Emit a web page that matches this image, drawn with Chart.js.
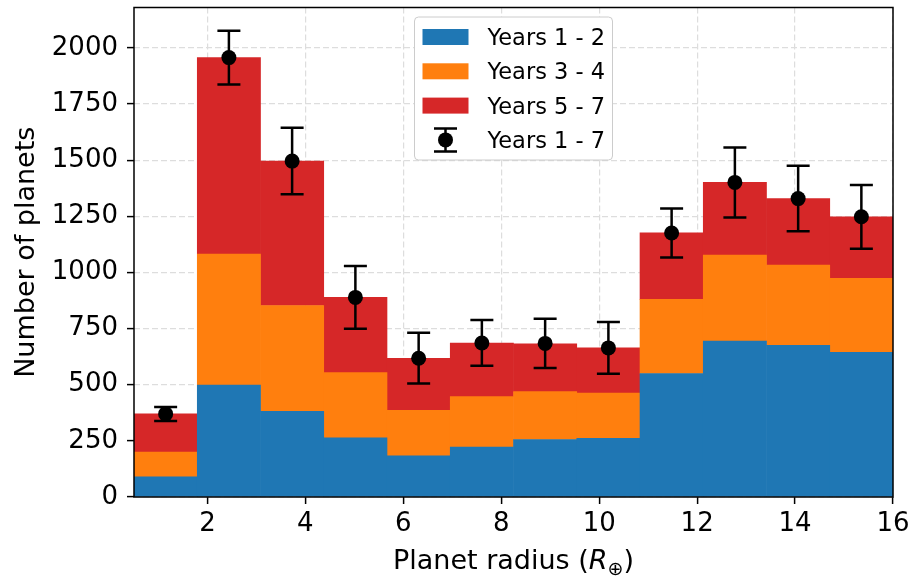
<!DOCTYPE html>
<html>
<head>
<meta charset="utf-8">
<script src="https://cdn.jsdelivr.net/npm/chart.js@4.4.0/dist/chart.umd.min.js"></script>
<style>
html,body{margin:0;padding:0;background:#fff}
#wrap{width:912px;height:576px}
</style>
</head>
<body>
<div id="wrap"><canvas id="hist" width="912" height="576"></canvas></div>
<script>
// histogram bins (planet radius, R_earth) - centres of the 12 bins between 0.5 and 16
var binCentres = [1.146, 2.438, 3.729, 5.021, 6.313, 7.604, 8.896, 10.188, 11.479, 12.771, 14.063, 15.354]
var years12 = [90, 498, 382, 264, 183, 222, 256, 261, 550, 694, 675, 644]
var years34 = [110, 584, 471, 290, 203, 225, 213, 202, 330, 383, 358, 330]
var years57 = [170, 875, 643, 335, 232, 238, 213, 201, 296, 324, 296, 274]
var years17 = [370, 1957, 1496, 889, 618, 686, 684, 664, 1176, 1401, 1329, 1248]
var years17Err = [31, 120, 148, 140, 113, 102, 110, 115, 109, 156, 146, 142]
var xTicks = [2, 4, 6, 8, 10, 12, 14, 16]
var yTicks = [0, 250, 500, 750, 1000, 1250, 1500, 1750, 2000]

var couleurs = {bleu: "#1f77b4", orange: "#ff7f0e", rouge: "#d62728"}
var police = "DejaVu Sans"

function points(vals){
	var res = []
	for(var i=0;i<vals.length;i++){
		res.push({x: binCentres[i], y: vals[i]})
	}
	return res
}

var extras = {
	id: "extras",
	afterDatasetsDraw: function(chart){
		var ctx = chart.ctx
		var xs = chart.scales.x
		var ys = chart.scales.y
		var ca = chart.chartArea
		ctx.save()
		// error bars
		ctx.strokeStyle = "#000"
		ctx.lineWidth = 2.5
		for(var i=0;i<years17.length;i++){
			var px = xs.getPixelForValue(binCentres[i])
			var yh = ys.getPixelForValue(years17[i] + years17Err[i])
			var yb = ys.getPixelForValue(years17[i] - years17Err[i])
			ctx.beginPath()
			ctx.moveTo(px, yh); ctx.lineTo(px, yb)
			ctx.moveTo(px - 11.5, yh); ctx.lineTo(px + 11.5, yh)
			ctx.moveTo(px - 11.5, yb); ctx.lineTo(px + 11.5, yb)
			ctx.stroke()
		}
		// frame
		ctx.lineWidth = 1.5
		ctx.strokeRect(ca.left, ca.top, ca.right - ca.left, ca.bottom - ca.top)

		// legend
		var lw = 198, lh = 143
		var lx = (ca.left + ca.right) / 2 - lw / 2
		var ly = ca.top + 9.5
		ctx.beginPath()
		ctx.roundRect(lx, ly, lw, lh, 4)
		ctx.fillStyle = "#fff"
		ctx.fill()
		ctx.strokeStyle = "#cccccc"
		ctx.lineWidth = 1
		ctx.stroke()
		var entrees = [["Years 1 - 2", couleurs.bleu], ["Years 3 - 4", couleurs.orange], ["Years 5 - 7", couleurs.rouge], ["Years 1 - 7", null]]
		ctx.font = "22.5px '" + police + "'"
		ctx.textBaseline = "alphabetic"
		ctx.textAlign = "left"
		for(var k=0;k<entrees.length;k++){
			var ry = ly + 20 + k * 34.3
			if(entrees[k][1]){
				ctx.fillStyle = entrees[k][1]
				ctx.fillRect(lx + 8, ry - 8, 46, 16)
			}else{
				var cx = lx + 31
				ctx.strokeStyle = "#000"
				ctx.lineWidth = 2.5
				ctx.beginPath()
				ctx.moveTo(cx, ry - 11.5); ctx.lineTo(cx, ry + 11.5)
				ctx.moveTo(cx - 11.5, ry - 11.5); ctx.lineTo(cx + 11.5, ry - 11.5)
				ctx.moveTo(cx - 11.5, ry + 11.5); ctx.lineTo(cx + 11.5, ry + 11.5)
				ctx.stroke()
				ctx.fillStyle = "#000"
				ctx.beginPath()
				ctx.arc(cx, ry, 7.5, 0, Math.PI * 2)
				ctx.fill()
			}
			ctx.fillStyle = "#000"
			ctx.fillText(entrees[k][0], lx + 73, ry + 8)
		}

		// x axis title with R subscript earth symbol
		var morceaux = [
			["Planet radius (", "27px '" + police + "'", 0],
			["R", "italic 27px '" + police + "'", 0],
			["\u2295", "19px '" + police + "'", 6],
			[")", "27px '" + police + "'", 0]
		]
		var total = 0
		for(var m=0;m<morceaux.length;m++){
			ctx.font = morceaux[m][1]
			total += ctx.measureText(morceaux[m][0]).width
		}
		var tx = (ca.left + ca.right) / 2 - total / 2
		var base = 569
		ctx.fillStyle = "#000"
		for(var m=0;m<morceaux.length;m++){
			ctx.font = morceaux[m][1]
			ctx.fillText(morceaux[m][0], tx, base + morceaux[m][2])
			tx += ctx.measureText(morceaux[m][0]).width
		}
		ctx.restore()
	}
}

new Chart("hist", {
	type: "bar",
	data: {
		datasets: [
			{type: "scatter", label: "Years 1 - 7", data: points(years17), order: 0,
				pointRadius: 7.5, pointHoverRadius: 7.5, backgroundColor: "#000", borderWidth: 0, pointBorderWidth: 0},
			{label: "Years 1 - 2", data: points(years12), backgroundColor: couleurs.bleu, stack: "hist", order: 1},
			{label: "Years 3 - 4", data: points(years34), backgroundColor: couleurs.orange, stack: "hist", order: 1},
			{label: "Years 5 - 7", data: points(years57), backgroundColor: couleurs.rouge, stack: "hist", order: 1}
		]
	},
	options: {
		responsive: false,
		animation: false,
		devicePixelRatio: 1,
		layout: {padding: {left: 0, right: 19, top: 4.5, bottom: 0}},
		datasets: {bar: {barPercentage: 1, categoryPercentage: 1, borderWidth: 0}},
		plugins: {legend: {display: false}, tooltip: {enabled: false}},
		scales: {
			x: {
				type: "linear", min: 0.5, max: 16, offset: false,
				afterBuildTicks: function(s){ s.ticks = xTicks.map(function(v){ return {value: v} }) },
				afterFit: function(s){ s.height = 79; s.paddingLeft = 0; s.paddingRight = 0 },
				grid: {color: "#dddddd", lineWidth: 1.2, offset: false, tickColor: "#000", tickWidth: 1.5, tickLength: 7},
				border: {display: false, dash: [6, 3]},
				ticks: {color: "#000", font: {family: police, size: 26}, padding: 5, maxRotation: 0,
					callback: function(v){ return String(v) }}
			},
			y: {
				stacked: true, min: 0, max: 2180,
				afterBuildTicks: function(s){ s.ticks = yTicks.map(function(v){ return {value: v} }) },
				afterFit: function(s){ s.width = 134; s.paddingTop = 0; s.paddingBottom = 0 },
				grid: {color: "#dddddd", lineWidth: 1.2, tickColor: "#000", tickWidth: 1.5, tickLength: 7},
				border: {display: false, dash: [6, 3]},
				ticks: {color: "#000", font: {family: police, size: 26}, padding: 9,
					callback: function(v){ return String(v) }},
				title: {display: true, text: "Number of planets", color: "#000", font: {family: police, size: 27}, padding: {top: 11, bottom: 0}}
			}
		}
	},
	plugins: [extras]
})
</script>
</body>
</html>
